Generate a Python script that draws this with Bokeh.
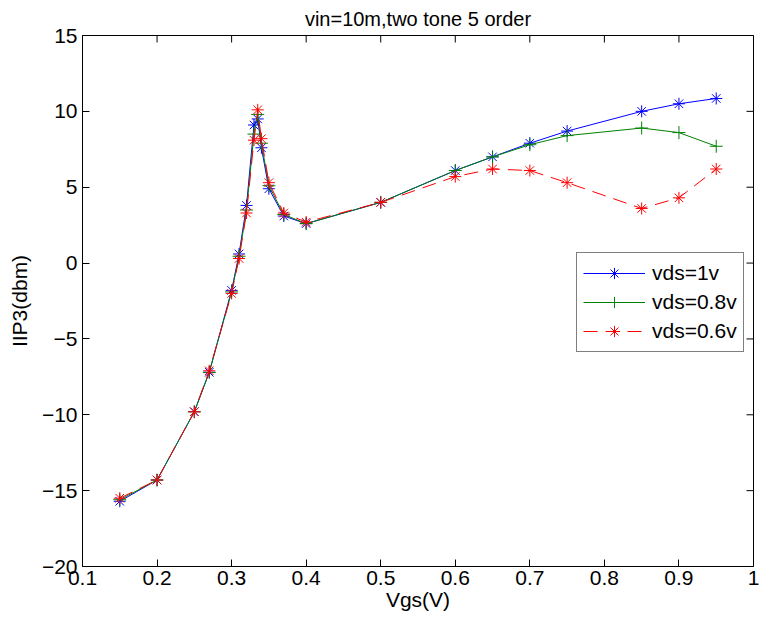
import math

from bokeh.plotting import figure
from bokeh.models import Legend, LegendItem, Range1d, FixedTicker
from bokeh.embed import file_html
from bokeh.resources import INLINE

# Gate bias sweep (V)
vgs = [0.15, 0.2, 0.25, 0.27, 0.3, 0.31, 0.32, 0.33, 0.335, 0.34, 0.35, 0.37,
       0.4, 0.5, 0.6, 0.65, 0.7, 0.75, 0.85, 0.9, 0.95]

# IIP3 (dBm) for each drain bias
iip3_vds_1v = [-15.7, -14.3, -9.8, -7.2, -1.8, 0.6, 3.8, 9.1, 9.5, 7.6, 4.9, 3.1,
               2.6, 4.0, 6.1, 7.0, 7.9, 8.7, 10.0, 10.5, 10.85]
iip3_vds_08v = [-15.6, -14.3, -9.8, -7.2, -1.9, 0.45, 3.5, 8.5, 9.8, 7.9, 5.1, 3.2,
                2.6, 4.0, 6.1, 7.0, 7.8, 8.4, 8.9, 8.6, 7.7]
iip3_vds_06v = [-15.5, -14.3, -9.8, -7.1, -2.0, 0.3, 3.3, 8.1, 10.1, 8.2, 5.3, 3.3,
                2.7, 4.0, 5.7, 6.2, 6.1, 5.3, 3.6, 4.3, 6.2]

series_labels = ["vds=1v", "vds=0.8v", "vds=0.6v"]

x_ticks = [0.1, 0.2, 0.3, 0.4, 0.5, 0.6, 0.7, 0.8, 0.9, 1.0]
x_tick_labels = ["0.1", "0.2", "0.3", "0.4", "0.5", "0.6", "0.7", "0.8", "0.9", "1"]
y_ticks = [-20, -15, -10, -5, 0, 5, 10, 15]
y_tick_labels = ["\u221220", "\u221215", "\u221210", "\u22125", "0", "5", "10", "15"]

X_MIN, X_MAX = 0.1, 1.0
Y_MIN, Y_MAX = -20, 15

FONT = "Liberation Sans"
FS = "21px"
TICK_LEN = 7

p = figure(width=760, height=626, output_backend="svg", toolbar_location=None,
           x_range=Range1d(X_MIN, X_MAX), y_range=Range1d(Y_MIN, Y_MAX),
           min_border_left=82, min_border_right=7, min_border_top=35,
           min_border_bottom=60, x_axis_label="Vgs(V)", y_axis_label="IIP3(dbm)",
           title="vin=10m,two tone 5 order")

p.title.align = "center"
p.title.text_font = FONT
p.title.text_font_size = "20px"
p.title.text_font_style = "normal"
p.title.text_color = "black"
p.title.text_line_height = 0.8
p.title.standoff = 11

p.background_fill_color = "white"
p.border_fill_color = "white"
p.outline_line_color = "black"
p.outline_line_width = 1
p.xgrid.visible = False
p.ygrid.visible = False

p.xaxis.ticker = FixedTicker(ticks=x_ticks)
p.yaxis.ticker = FixedTicker(ticks=y_ticks)
p.xaxis.major_label_overrides = {t: s for t, s in zip(x_ticks, x_tick_labels)}
p.yaxis.major_label_overrides = {t: s for t, s in zip(y_ticks, y_tick_labels)}

for ax in (p.xaxis, p.yaxis):
    ax.major_tick_in = TICK_LEN
    ax.major_tick_out = 0
    ax.major_tick_line_width = 1
    ax.minor_tick_line_color = None
    ax.axis_line_color = "black"
    ax.major_tick_line_color = "black"
    ax.major_label_text_font = FONT
    ax.major_label_text_font_size = FS
    ax.major_label_text_color = "black"
    ax.axis_label_text_font = FONT
    ax.axis_label_text_font_size = FS
    ax.axis_label_text_font_style = "normal"
    ax.axis_label_text_color = "black"

p.xaxis.major_label_standoff = 4
p.xaxis.axis_label_standoff = 0
p.yaxis.major_label_standoff = 5
p.yaxis.axis_label_standoff = 8

# inward tick marks on the top and right edges of the box: dashes centred on
# the edge, the outer half falls outside the frame
p.scatter(x_ticks, [Y_MAX] * len(x_ticks), marker="dash", size=2 * TICK_LEN,
          angle=math.pi / 2, line_color="black", line_width=1)
p.scatter([X_MAX] * len(y_ticks), y_ticks, marker="dash", size=2 * TICK_LEN,
          line_color="black", line_width=1)

# curves
l1 = p.line(vgs, iip3_vds_1v, line_color="#0000ff", line_width=1)
m1 = p.scatter(vgs, iip3_vds_1v, marker="asterisk", size=12, line_color="#0000ff", line_width=1)
l2 = p.line(vgs, iip3_vds_08v, line_color="#008000", line_width=1)
m2 = p.scatter(vgs, iip3_vds_08v, marker="cross", size=13, line_color="#008000", line_width=1)
l3 = p.line(vgs, iip3_vds_06v, line_color="#ff0000", line_width=1, line_dash="14 8")
m3 = p.scatter(vgs, iip3_vds_06v, marker="asterisk", size=12, line_color="#ff0000", line_width=1)

legend = Legend(items=[
    LegendItem(label=series_labels[0], renderers=[l1, m1]),
    LegendItem(label=series_labels[1], renderers=[l2, m2]),
    LegendItem(label=series_labels[2], renderers=[l3, m3]),
], location=(494, 214))
legend.border_line_color = "black"
legend.border_line_width = 1
legend.background_fill_color = "white"
legend.background_fill_alpha = 1
legend.label_text_font = FONT
legend.label_text_font_size = FS
legend.label_text_color = "black"
legend.padding = 6
legend.margin = 0
legend.spacing = 1
legend.glyph_width = 62
legend.glyph_height = 28
legend.label_height = 28
legend.label_standoff = 7
p.add_layout(legend, "center")

open("out.html", "w").write(file_html(p, INLINE))
